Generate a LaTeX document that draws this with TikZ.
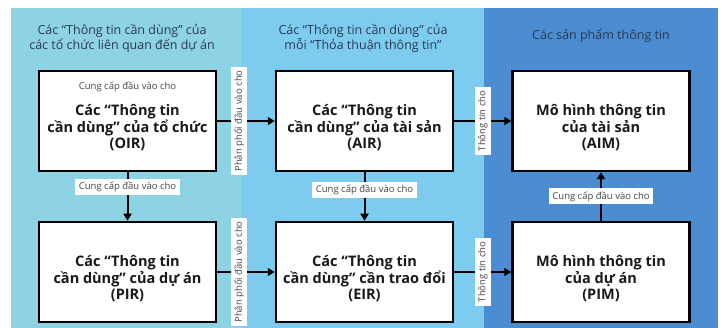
\documentclass[tikz,border=0pt]{standalone}
\usepackage{fontspec}
\setmainfont{Open Sans}
\usepackage{xcolor}
\usetikzlibrary{positioning, arrows.meta}
\definecolor{tealpanel}{RGB}{142,211,227}
\definecolor{skypanel}{RGB}{125,204,240}
\definecolor{bluepanel}{RGB}{75,141,208}
\definecolor{headtext}{RGB}{40,58,82}
\definecolor{lbltext}{RGB}{70,70,70}

\begin{document}
\begin{tikzpicture}[x=1pt, y=-1pt,
  box/.style={rectangle, draw=black, line width=2.5pt, fill=white,
              minimum width=177pt, minimum height=100pt},
  boxtxt/.style={align=center, text=black!90, yshift=-7pt,
                 font=\fontsize{14.5}{16.5}\selectfont\bfseries},
  head/.style={align=center, text=headtext,
               font=\fontsize{12.5}{15}\selectfont},
  arr/.style={-{Triangle[length=7pt, width=8pt]}, line width=2pt, draw=black},
  lbl/.style={fill=white, text=lbltext, inner xsep=3.5pt, inner ysep=3pt,
              font=\fontsize{9.5}{10}\selectfont}
]
\useasboundingbox (0,0) rectangle (723,328);

% Panels
\fill[tealpanel] (11,8)  rectangle (241,328);
\fill[skypanel]  (241,8) rectangle (484,328);
\fill[bluepanel] (484,8) rectangle (718,328);

% Headers
\node[head] (h1) at (122,38) {Các “Thông tin cần dùng” của\\các tổ chức liên quan đến dự án};
\node[head] (h2) at (363,38) {Các “Thông tin cần dùng” của\\mỗi “Thỏa thuận thông tin”};
\node[head] (h3) at (601,36) {Các sản phẩm thông tin};

% Boxes
\node[box] (OIR) at (127.5,121) {};
\node[box] (PIR) at (127.5,272) {};
\node[box] (AIR) at (364.5,121) {};
\node[box] (EIR) at (364.5,272) {};
\node[box] (AIM) at (601,121)   {};
\node[box] (PIM) at (601,272)   {};

% Box texts
\node[boxtxt] (OIRtxt) at (OIR) {Các “Thông tin\\cần dùng” của tổ chức\\(OIR)};
\node[boxtxt] (PIRtxt) at (PIR) {Các “Thông tin\\cần dùng” của dự án\\(PIR)};
\node[boxtxt] (AIRtxt) at (AIR) {Các “Thông tin\\cần dùng” của tài sản\\(AIR)};
\node[boxtxt] (EIRtxt) at (EIR) {Các “Thông tin\\cần dùng” cần trao đổi\\(EIR)};
\node[boxtxt] (AIMtxt) at (AIM) {Mô hình thông tin\\của tài sản\\(AIM)};
\node[boxtxt] (PIMtxt) at (PIM) {Mô hình thông tin\\của dự án\\(PIM)};

\node[text=lbltext, font=\fontsize{9.5}{10}\selectfont] (oirnote) at (127.5,87) {Cung cấp đầu vào cho};

% Vertical links
\draw[arr] (OIR) -- node[lbl, pos=0.3]  {Cung cấp đầu vào cho} (PIR);
\draw[arr] (AIR) -- node[lbl, pos=0.36] {Cung cấp đầu vào cho} (EIR);
\draw[arr] (PIM) -- node[lbl, pos=0.5]  {Cung cấp đầu vào cho} (AIM);

% Horizontal links
\draw[arr] (OIR) -- node[lbl, rotate=90, pos=0.38] {Phân phối đầu vào cho} (AIR);
\draw[arr] (PIR) -- node[lbl, rotate=90, pos=0.38] {Phân phối đầu vào cho} (EIR);
\draw[arr] (AIR) -- node[lbl, rotate=90] {Thông tin cho} (AIM);
\draw[arr] (EIR) -- node[lbl, rotate=90] {Thông tin cho} (PIM);

\end{tikzpicture}
\end{document}
